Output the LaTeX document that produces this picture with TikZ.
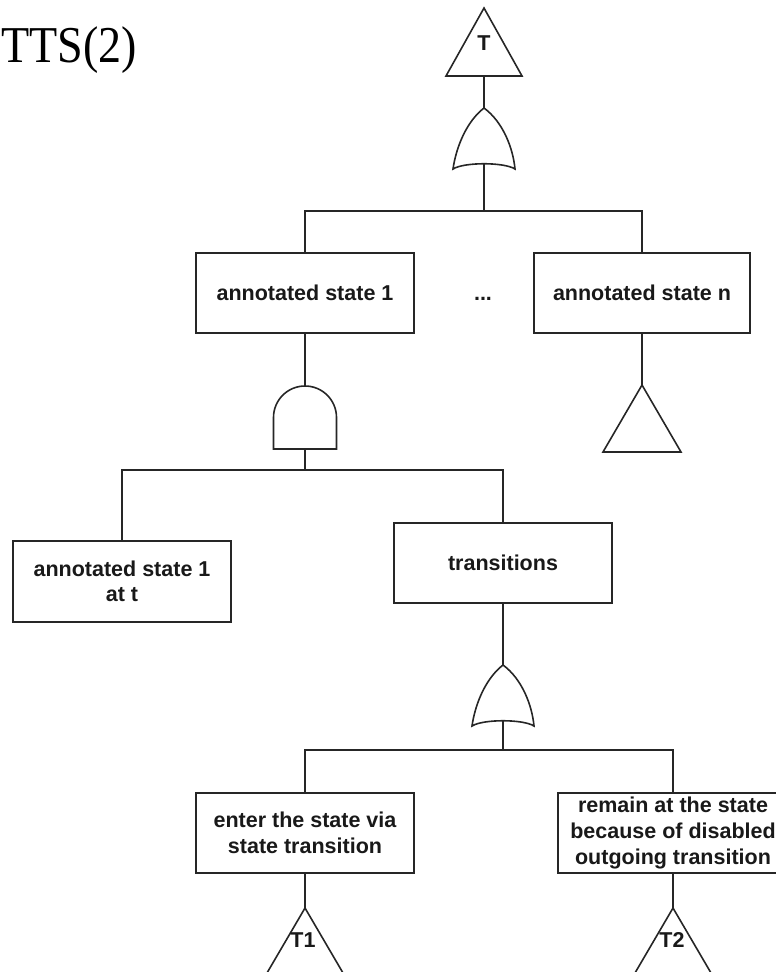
\documentclass[tikz,border=0pt]{standalone}
\usepackage{fontspec}
\setmainfont{Liberation Sans}
\newfontfamily\ttsfont{Liberation Serif}
\newcommand\lblfont{\fontsize{21.5}{25.6}\selectfont\bfseries}

\tikzset{
  ln/.style={line width=1.6pt, draw=black!85, line join=miter},
  box/.style={ln, rectangle, inner sep=0pt, align=center, text=black!90,
              minimum width=218pt, minimum height=80pt, font=\lblfont},
  lbl/.style={inner sep=0pt, text=black!90, font=\lblfont},
  % OR gate, origin at its input (top) point
  orgate/.pic={
    \draw[ln] (0,0) .. controls (19,14) and (29,40) .. (31,61)
      .. controls (20,54) and (-20,54) .. (-31,61)
      .. controls (-28,40) and (-18,14) .. cycle;
  },
  % AND gate, origin at its input (top) point
  andgate/.pic={
    \draw[ln] (-31.5,63) -- (-31.5,31.5)
      .. controls (-31.5,14.1) and (-17.4,0) .. (0,0)
      .. controls (17.4,0) and (31.5,14.1) .. (31.5,31.5)
      -- (31.5,63) -- cycle;
  }
}

\begin{document}
\begin{tikzpicture}[x=1pt,y=-1pt]
\useasboundingbox (0,0) rectangle (776,972);
\clip (0,0) rectangle (776,972);

% title
\node[anchor=base west, inner sep=0pt, font=\ttsfont\fontsize{47}{50}\selectfont] (title) at (1,62) {\scalebox{0.98}[1.1]{TTS(2)}};

% top event triangle
\draw[ln] (484,8) -- (522,76) -- (446,76) -- cycle;
\node[lbl] (tT) at (484,43) {T};
\coordinate (tTbase) at (484,76);

% top OR gate
\pic at (484,108) {orgate};
\coordinate (or1in) at (484,108);
\coordinate (or1out) at (484,164);
\coordinate (bar1) at (484,211);

% annotated states
\node[box] (as1) at (305,293) {annotated state 1};
\node[box, minimum width=216pt] (asn) at (642,293) {annotated state n};
\node[lbl, anchor=base] (dots) at (483,300) {...};

% transfer triangle under state n
\coordinate (trn) at (642,385);
\draw[ln] (trn) -- (681,452) -- (603,452) -- cycle;

% AND gate under state 1
\pic at (305,386) {andgate};
\coordinate (and1in) at (305,386);
\coordinate (and1out) at (305,449);
\coordinate (bar2) at (305,470);

\node[box, minimum height=81pt] (ast) at (122,581.5) {annotated state 1\\at t};
\node[box] (trans) at (503,563) {transitions};

% OR gate under transitions
\pic at (503,665) {orgate};
\coordinate (or2in) at (503,665);
\coordinate (or2out) at (503,721);
\coordinate (bar3) at (503,750);

\node[box] (enter) at (305,833) {enter the state via\\state transition};
\node[box, minimum width=230pt] (remain) at (673,833) {remain at the state\\because of disabled\\outgoing transition};

% transfer triangles T1 and T2
\coordinate (t1) at (305,908);
\coordinate (t2) at (673,908);
\draw[ln] (t1) -- ++(55,94) -- ++(-110,0) -- cycle;
\draw[ln] (t2) -- ++(55,94) -- ++(-110,0) -- cycle;
\node[lbl] (t1l) at (303,940) {T1};
\node[lbl] (t2l) at (672,940) {T2};

% connectors
\draw[ln] (tTbase) -- (or1in);
\draw[ln] (or1out) -- (bar1) -| (as1.north);
\draw[ln] (bar1) -| (asn.north);
\draw[ln] (asn.south) -- (trn);
\draw[ln] (as1.south) -- (and1in);
\draw[ln] (and1out) -- (bar2) -| (ast.north);
\draw[ln] (bar2) -| (trans.north);
\draw[ln] (trans.south) -- (or2in);
\draw[ln] (or2out) -- (bar3) -| (enter.north);
\draw[ln] (bar3) -| (remain.north);
\draw[ln] (enter.south) -- (t1);
\draw[ln] (remain.south) -- (t2);
\end{tikzpicture}
\end{document}
